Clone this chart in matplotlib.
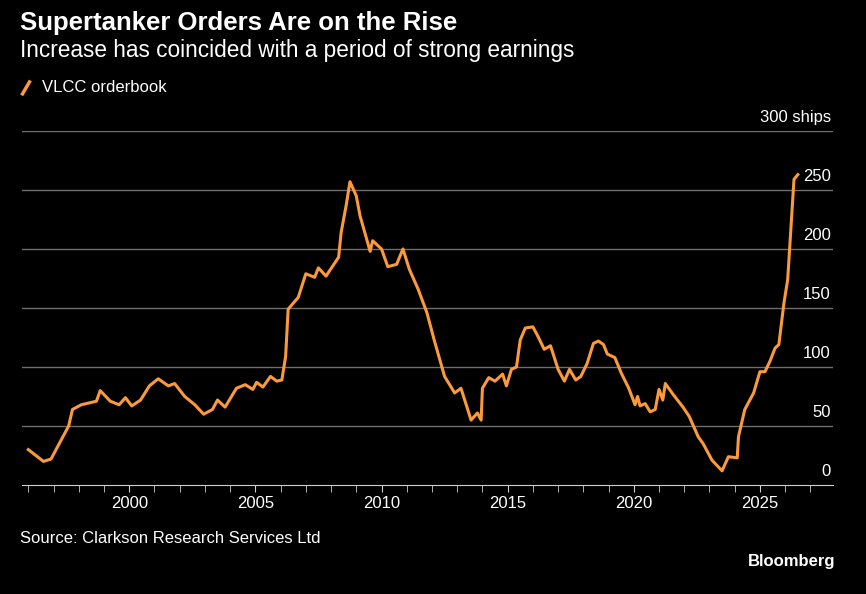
import matplotlib
matplotlib.use("Agg")
import matplotlib.pyplot as plt
from matplotlib.transforms import blended_transform_factory

plt.rcParams["font.family"] = ["Liberation Sans", "DejaVu Sans"]
ORANGE = "#fb9a3c"
GRID = "#6e6e6e"

years = [1996.0, 1996.6, 1996.9, 1997.2, 1997.6, 1997.75, 1998.1, 1998.7, 1998.85, 1999.25,
         1999.6, 1999.85, 2000.1, 2000.45, 2000.8, 2001.15, 2001.55, 2001.8, 2002.2, 2002.6,
         2002.95, 2003.3, 2003.5, 2003.8, 2004.25, 2004.6, 2004.9, 2005.05, 2005.3, 2005.6,
         2005.85, 2006.05, 2006.2, 2006.3, 2006.7, 2007.0, 2007.35, 2007.5, 2007.8, 2008.3,
         2008.4, 2008.6, 2008.75, 2009.0, 2009.15, 2009.55, 2009.65, 2010.0, 2010.25, 2010.6,
         2010.85, 2011.1, 2011.45, 2011.8, 2012.1, 2012.5, 2012.9, 2013.15, 2013.55, 2013.8,
         2013.95, 2014.0, 2014.25, 2014.5, 2014.8, 2014.95, 2015.15, 2015.35, 2015.5, 2015.7,
         2016.0, 2016.2, 2016.45, 2016.7, 2017.0, 2017.25, 2017.45, 2017.7, 2017.9, 2018.15,
         2018.4, 2018.6, 2018.8, 2018.95, 2019.25, 2019.5, 2019.8, 2020.05, 2020.15, 2020.25,
         2020.45, 2020.65, 2020.85, 2021.0, 2021.15, 2021.25, 2021.55, 2021.95, 2022.2, 2022.55,
         2022.75, 2023.1, 2023.5, 2023.75, 2024.1, 2024.15, 2024.4, 2024.75, 2025.0, 2025.2,
         2025.4, 2025.6, 2025.75, 2025.95, 2026.1, 2026.25, 2026.35, 2026.5]
orderbook = [30, 20, 22, 34, 50, 64, 68, 71, 80, 71,
             68, 74, 67, 72, 84, 90, 84, 86, 75, 68,
             60, 64, 72, 66, 82, 85, 81, 87, 83, 92,
             88, 89, 109, 149, 159, 179, 176, 184, 177, 193,
             214, 237, 257, 245, 228, 198, 207, 200, 185, 187,
             200, 183, 166, 146, 122, 92, 78, 82, 55, 61,
             55, 82, 91, 88, 94, 84, 98, 100, 123, 133,
             134, 126, 115, 118, 98, 88, 98, 89, 92, 103,
             120, 122, 119, 111, 108, 95, 82, 68, 75, 67,
             69, 62, 64, 81, 72, 86, 77, 66, 58, 41,
             35, 21, 12, 24, 23, 41, 64, 78, 96, 96,
             105, 116, 119, 154, 174, 225, 259, 263]
yticks = [0, 50, 100, 150, 200, 250, 300]
xticks = [2000, 2005, 2010, 2015, 2020, 2025]

fig = plt.figure(figsize=(8.66, 5.94), dpi=100, facecolor="black")
ax = fig.add_axes([0.0254, 0.1835, 0.9366, 0.596], facecolor="black")
ax.set_xlim(1995.75, 2027.9); ax.set_ylim(0, 300)
for v in yticks[1:]:
    ax.axhline(v, color=GRID, lw=1, zorder=1)
ax.plot(years, orderbook, color=ORANGE, lw=2.2, zorder=3, solid_joinstyle="round")
tr = blended_transform_factory(ax.transAxes, ax.transData)
for v in yticks:
    lab = "300 ships" if v == 300 else str(v)
    ax.text(0.997, v + 5, lab, transform=tr, ha="right", va="bottom", color="white", fontsize=12)
for s in ["top", "right", "left"]:
    ax.spines[s].set_visible(False)
ax.spines["bottom"].set_color("#cfcfcf")
ax.set_yticks([])
ax.set_xticks(range(1996, 2028), minor=True)
ax.set_xticks(xticks)
ax.tick_params(axis="x", which="both", colors="#cfcfcf", length=5, pad=3, labelcolor="white", labelsize=12)

fig.text(0.023, 0.962, "Supertanker Orders Are on the Rise", color="white", fontsize=18.5, fontweight="bold", va="center")
fig.text(0.023, 0.915, "Increase has coincided with a period of strong earnings", color="white", fontsize=16.3, va="center")
fig.add_artist(plt.Line2D([0.026, 0.034], [0.842, 0.862], color=ORANGE, lw=2.5))
fig.text(0.048, 0.852, "VLCC orderbook", color="white", fontsize=12, va="center")
fig.text(0.023, 0.094, "Source: Clarkson Research Services Ltd", color="white", fontsize=12, va="center")
fig.text(0.965, 0.054, "Bloomberg", color="white", fontsize=12, fontweight="bold", ha="right", va="center")
fig.savefig("out.png", dpi=100, facecolor="black")
